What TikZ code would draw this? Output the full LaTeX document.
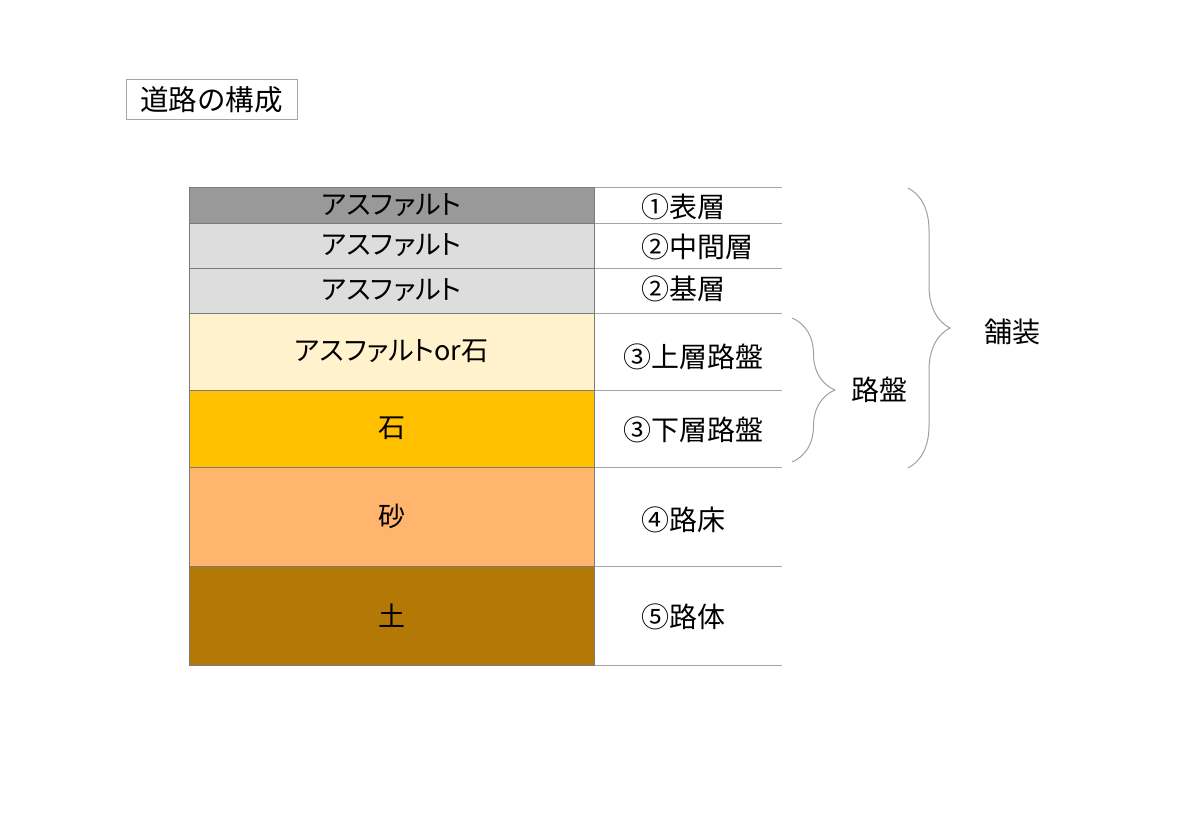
\documentclass[tikz,border=0pt]{standalone}
\usepackage{fontspec}
\setmainfont{Noto Sans CJK JP}
\newfontfamily\kanafont[RawFeature=+palt]{Noto Sans CJK JP}
\usetikzlibrary{decorations.pathreplacing}
\definecolor{dkgray}{HTML}{999999}
\definecolor{ltgray}{HTML}{DDDDDD}
\definecolor{cream}{HTML}{FFF2CC}
\definecolor{gold}{HTML}{FFC000}
\definecolor{sandor}{HTML}{FFB56E}
\definecolor{soil}{HTML}{B37806}
\definecolor{cellline}{HTML}{7A7A7A}
\definecolor{rline}{HTML}{A6A6A6}
\definecolor{brc}{HTML}{A0A0A0}
\begin{document}
\begin{tikzpicture}[x=1pt,y=-1pt,
  cell/.style={draw=cellline, line width=0.8pt, minimum width=405pt, inner sep=0pt,
    font=\fontsize{27}{30}\selectfont\kanafont},
  lab/.style={anchor=west, inner sep=0pt, font=\fontsize{28}{32}\selectfont},
  rowline/.style={draw=rline, line width=1pt},
  bracepath/.style={draw=brc, line width=1pt, decorate,
    decoration={brace, amplitude=#1, aspect=0.5}},
  titlebox/.style={draw=rline, line width=1pt, minimum width=171pt, minimum height=40pt,
    inner sep=0pt, font=\fontsize{28.5}{32}\selectfont}]
\useasboundingbox (0,0) rectangle (1200,827);

\node[titlebox] (title) at (211.5,99.5) {道路の構成};

% right column rows
\foreach \y in {187,223,268,313,390,467,566,665}
  \draw[rowline] (594,\y) -- (782,\y);

% layers
\node[cell, fill=dkgray, minimum height=36pt] (c1) at (391.5,205) {アスファルト};
\node[cell, fill=ltgray, minimum height=45pt] (c2) at (391.5,245.5) {アスファルト};
\node[cell, fill=ltgray, minimum height=45pt] (c3) at (391.5,290.5) {アスファルト};
\node[cell, fill=cream, minimum height=77pt] (c4) at (391.5,351.5) {アスファルトor石};
\node[cell, fill=gold, minimum height=77pt] (c5) at (391.5,428.5) {石};
\node[cell, fill=sandor, minimum height=99pt] (c6) at (391.5,516.5) {砂};
\node[cell, fill=soil, minimum height=99pt] (c7) at (391.5,615.5) {土};

% labels
\node[lab] (l1) at (641,207) {①表層};
\node[lab] (l2) at (641,247) {②中間層};
\node[lab] (l3) at (641,289) {②基層};
\node[lab] (l4) at (623,357) {③上層路盤};
\node[lab] (l5) at (623,430) {③下層路盤};
\node[lab] (l6) at (641,520) {④路床};
\node[lab] (l7) at (641,617) {⑤路体};

% braces
\coordinate (b1t) at (908,188);
\coordinate (b1b) at (908,468);
\coordinate (b2t) at (792,318);
\coordinate (b2b) at (792,462);
\draw[bracepath=42pt] (b1t) -- (b1b);
\draw[bracepath=43pt] (b2t) -- (b2b);
\node[font=\fontsize{28}{32}\selectfont, inner sep=0pt] (pave) at (1012,332) {舗装};
\node[font=\fontsize{28}{32}\selectfont, inner sep=0pt] (base) at (879,390) {路盤};
\end{tikzpicture}
\end{document}
